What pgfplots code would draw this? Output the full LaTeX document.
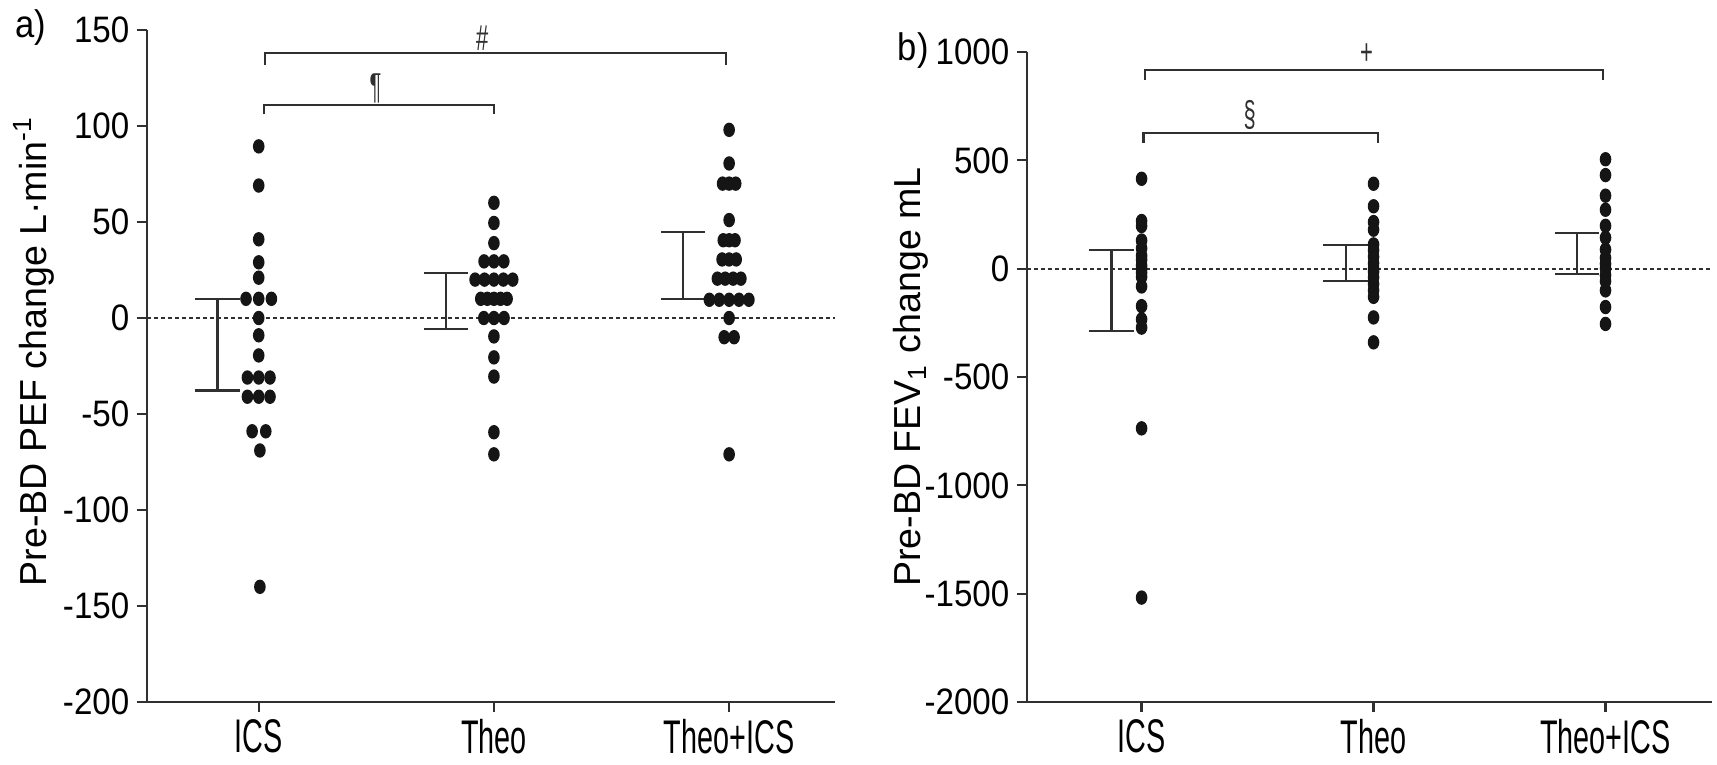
\documentclass[border=0pt]{standalone}
\usepackage{fontspec}
\setmainfont{Liberation Sans}
\newfontfamily\tickfont{Liberation Sans}[FakeStretch=0.9]
\newfontfamily\catfont{Liberation Sans}[FakeStretch=0.61]
\usepackage{pgfplots}
\pgfplotsset{compat=1.18}
\definecolor{ink}{HTML}{151515}
\definecolor{axisgray}{HTML}{303030}

\tikzset{sig/.style={font=\catfont\fontsize{9}{10}\selectfont, text=axisgray}}
\pgfplotsset{
  panel/.style={
    scale only axis, anchor=south west,
    axis x line*=bottom, axis y line*=left,
    axis line style={axisgray, line width=0.55pt},
    tick align=outside, major tick length=2.4pt,
    tick style={axisgray, line width=0.55pt},
    xtick={0,1,2}, xticklabels={ICS,Theo,Theo+ICS},
    x tick label style={font=\catfont\fontsize{11.8}{12}\selectfont, anchor=north, yshift=1.6pt},
    y tick label style={font=\tickfont\fontsize{9.2}{10}\selectfont, xshift=1.5pt},
    ylabel style={font=\fontsize{9.4}{10}\selectfont, anchor=center},
    clip=false,
  },
  dots/.style={only marks, mark=*, mark size=1.6pt, mark options={xscale=0.78, fill=ink, draw=ink}},
  bar/.style={axisgray, line width=0.55pt, mark=none},
  zero/.style={axisgray, line width=0.45pt, dash pattern=on 1pt off 0.75pt, mark=none},
}

\begin{document}
\begin{tikzpicture}
\useasboundingbox (0,0) rectangle (429.25pt,191pt);

% ---------------- panel a ----------------
\begin{axis}[panel, at={(36.75pt,15.5pt)}, width=172pt, height=168pt,
  xmin=-0.475, xmax=2.45, ymin=-200, ymax=150,
  ytick={-200,-150,-100,-50,0,50,100,150},
  yticklabels={-200,-150,-100,-50,0,50,100,150},
  ylabel={Pre-BD PEF change L·min\textsuperscript{-1}},
  ylabel style={at={(axis description cs:-0.164,0.522)}},
]
\addplot[zero] coordinates {(-0.475,0) (2.45,0)};
% ICS
\addplot[dots] coordinates {
(0,89.4) (0,69) (0,41) (0,29) (0,21)
(-0.054,10) (0,10) (0.054,10)
(0,0) (0,-9) (0,-19.5)
(-0.048,-31) (0,-31) (0.048,-31)
(-0.048,-41) (0,-41) (0.048,-41)
(-0.028,-59) (0.03,-59)
(0.005,-69) (0.005,-140)};
% Theo
\addplot[dots] coordinates {
(1,60) (1,49.5) (1,39)
(0.958,29.5) (1,29.5) (1.042,29.5)
(0.92,20) (0.96,20) (1,20) (1.04,20) (1.08,20)
(0.944,10) (0.972,10) (1,10) (1.028,10) (1.056,10)
(0.957,0) (1,0) (1.043,0)
(1,-9.6) (1,-20.5) (1,-30.5) (1,-59.5) (1,-71)};
% Theo+ICS
\addplot[dots] coordinates {
(2,98) (2,80.5)
(1.972,70) (2,70) (2.028,70)
(2,51)
(1.975,40.5) (2,40.5) (2.025,40.5)
(1.97,30.5) (2,30.5) (2.03,30.5)
(1.95,20.5) (1.983,20.5) (2.017,20.5) (2.05,20.5)
(1.916,9.5) (1.958,9.5) (2,9.5) (2.042,9.5) (2.084,9.5)
(2,0)
(1.979,-10) (2.021,-10)
(2,-71)};
% error bars
\addplot[bar] coordinates {(-0.175,-37.8) (-0.175,10)};
\addplot[bar] coordinates {(-0.271,10) (-0.079,10)};
\addplot[bar] coordinates {(-0.271,-37.8) (-0.079,-37.8)};
\addplot[bar] coordinates {(0.796,-5.7) (0.796,23.6)};
\addplot[bar] coordinates {(0.703,23.6) (0.889,23.6)};
\addplot[bar] coordinates {(0.703,-5.7) (0.889,-5.7)};
\addplot[bar] coordinates {(1.805,10) (1.805,44.6)};
\addplot[bar] coordinates {(1.712,44.6) (1.898,44.6)};
\addplot[bar] coordinates {(1.712,10) (1.898,10)};
% significance brackets
\addplot[bar] coordinates {(0.025,132) (0.025,138) (1.985,138) (1.985,132)};
\addplot[bar] coordinates {(0.022,106) (0.022,111) (1.0,111) (1.0,106)};
\node[sig] at (axis cs:0.95,145.5) {\#};
\node[sig] at (axis cs:0.497,119.5) {¶};
\end{axis}

% ---------------- panel b ----------------
\begin{axis}[panel, at={(256.75pt,15.5pt)}, width=171.25pt, height=162.5pt,
  xmin=-0.494, xmax=2.459, ymin=-2000, ymax=1000,
  ytick={-2000,-1500,-1000,-500,0,500,1000},
  yticklabels={-2000,-1500,-1000,-500,0,500,1000},
  ylabel={Pre-BD FEV\textsubscript{1} change mL},
  ylabel style={at={(axis description cs:-0.169,0.5)}},
]
\addplot[zero] coordinates {(-0.494,0) (2.459,0)};
\addplot[dots] coordinates {
(0,415) (0,220) (0,197) (0,130) (0,94) (0,60) (0,42) (0,15) (0,0)
(0,-18) (0,-38) (0,-82) (0,-173) (0,-234) (0,-272) (0,-737) (0,-1518)};
\addplot[dots] coordinates {
(1,392) (1,288) (1,215) (1,180) (1,112) (1,85) (1,55) (1,25) (1,0)
(1,-15) (1,-40) (1,-70) (1,-100) (1,-130) (1,-225) (1,-340)};
\addplot[dots] coordinates {
(2,505) (2,432) (2,337) (2,272) (2,198) (2,143) (2,88) (2,50) (2,22)
(2,0) (2,-30) (2,-58) (2,-100) (2,-177) (2,-255)};
% error bars
\addplot[bar] coordinates {(-0.13,-288) (-0.13,86)};
\addplot[bar] coordinates {(-0.227,86) (-0.033,86)};
\addplot[bar] coordinates {(-0.227,-288) (-0.033,-288)};
\addplot[bar] coordinates {(0.881,-55) (0.881,110)};
\addplot[bar] coordinates {(0.782,110) (0.98,110)};
\addplot[bar] coordinates {(0.782,-55) (0.98,-55)};
\addplot[bar] coordinates {(1.877,-25) (1.877,165)};
\addplot[bar] coordinates {(1.782,165) (1.972,165)};
\addplot[bar] coordinates {(1.782,-25) (1.972,-25)};
% significance brackets
\addplot[bar] coordinates {(0.016,872) (0.016,918) (1.99,918) (1.99,872)};
\addplot[bar] coordinates {(0.008,580) (0.008,627) (1.02,627) (1.02,580)};
\node[sig] at (axis cs:0.97,990) {+};
\node[sig] at (axis cs:0.466,710) {§};
\end{axis}

\node[font=\tickfont\fontsize{9.6}{10}\selectfont] at (7.6pt,184pt) {a)};
\node[font=\tickfont\fontsize{9.6}{10}\selectfont] at (228.3pt,178.3pt) {b)};
\end{tikzpicture}
\end{document}
